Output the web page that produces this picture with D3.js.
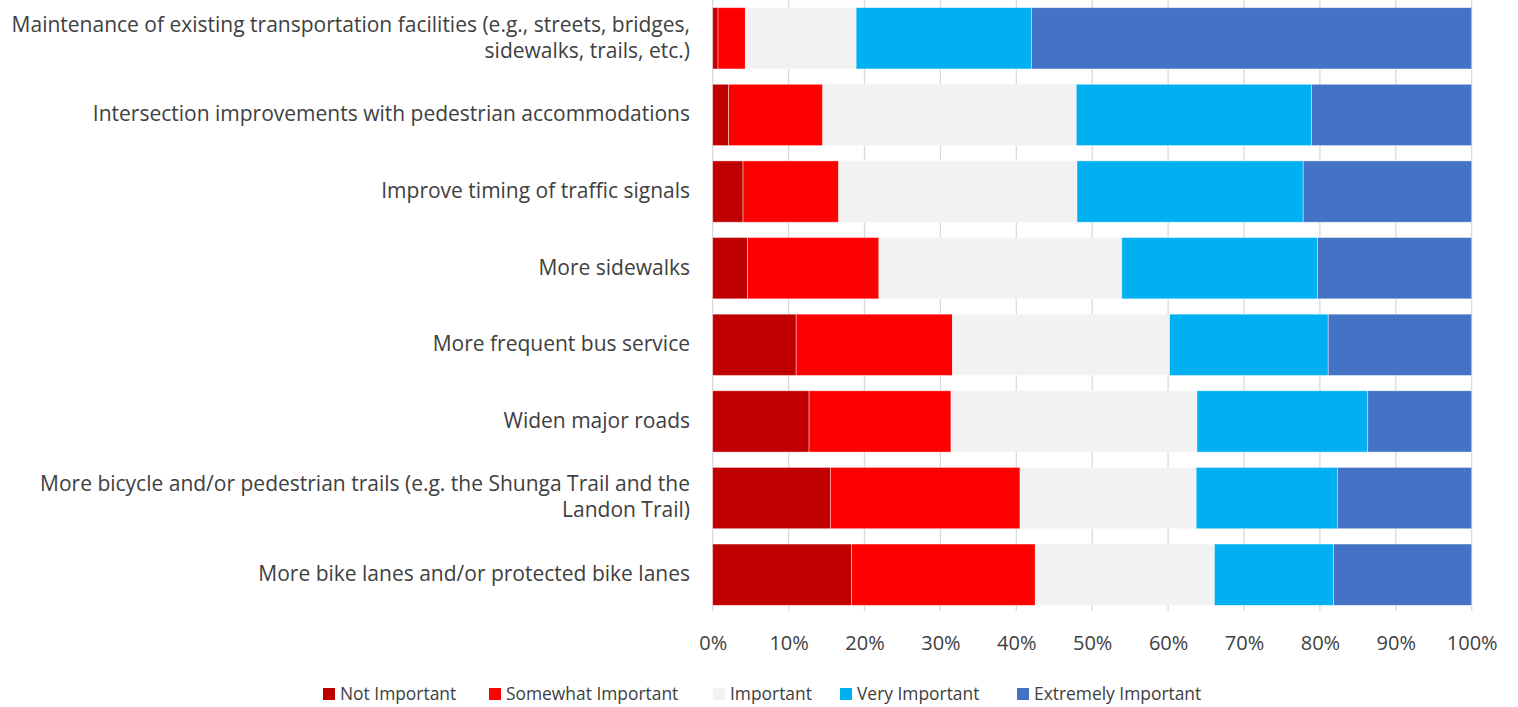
<!DOCTYPE html>
<html><head><meta charset="utf-8">
<script src="https://cdn.jsdelivr.net/npm/d3@7"></script>
<style>body{margin:0;background:#fff;} svg{display:block;}</style>
</head><body>
<svg id="chart" width="1518" height="707"></svg>
<script>
const categories = [
  ["Maintenance of existing transportation facilities (e.g., streets, bridges,", "sidewalks, trails, etc.)"],
  ["Intersection improvements with pedestrian accommodations"],
  ["Improve timing of traffic signals"],
  ["More sidewalks"],
  ["More frequent bus service"],
  ["Widen major roads"],
  ["More bicycle and/or pedestrian trails (e.g. the Shunga Trail and the", "Landon Trail)"],
  ["More bike lanes and/or protected bike lanes"]
];
const seriesNames = ["Not Important","Somewhat Important","Important","Very Important","Extremely Important"];
const notImportant      = [0.7, 2.1, 4.0, 4.6, 11.0, 12.7, 15.5, 18.3];
const somewhatImportant = [3.6, 12.4, 12.6, 17.3, 20.6, 18.7, 25.0, 24.2];
const important         = [14.6, 33.4, 31.4, 32.0, 28.6, 32.4, 23.2, 23.6];
const veryImportant     = [23.1, 31.0, 29.8, 25.8, 20.9, 22.5, 18.6, 15.7];
const extremelyImportant= [58.0, 21.1, 22.2, 20.3, 18.9, 13.7, 17.7, 18.2];
const tickValues = [0,10,20,30,40,50,60,70,80,90,100];
const colors = ["#C00000","#FF0000","#F2F2F2","#00B0F0","#4472C4"];

const seriesVals = [notImportant, somewhatImportant, important, veryImportant, extremelyImportant];
const rows = categories.map((c,i)=>{
  const o = {id:i};
  seriesNames.forEach((s,k)=>o[s]=seriesVals[k][i]);
  const tot = d3.sum(seriesVals, v=>v[i]);
  seriesNames.forEach(s=>o[s]=o[s]/tot*100);
  return o;
});
const stack = d3.stack().keys(seriesNames)(rows);

const svg = d3.select("#chart");
const font = "Open Sans, Liberation Sans, sans-serif";
const x = d3.scaleLinear().domain([0,100]).range([712.7,1471.7]);
const y = d3.scaleBand().domain(d3.range(categories.length)).range([0,613]).paddingInner(0.2).paddingOuter(0.1);

// gridlines
svg.append("g").selectAll("line").data(tickValues).join("line")
  .attr("x1",d=>x(d)).attr("x2",d=>x(d)).attr("y1",0).attr("y2",611)
  .attr("stroke","#D9D9D9").attr("stroke-width",1.3);

// bars
svg.append("g").selectAll("g").data(stack).join("g")
  .attr("fill",(d,i)=>colors[i])
  .selectAll("rect").data(d=>d).join("rect")
  .attr("x",d=>x(d[0])).attr("width",d=>x(d[1])-x(d[0]))
  .attr("y",d=>y(d.data.id)).attr("height",y.bandwidth())
  .attr("stroke","#ffffff").attr("stroke-opacity",0.5).attr("stroke-width",0.8);

// category labels
const lab = svg.append("g").attr("font-family",font).attr("font-size",21).attr("fill","#404040").attr("text-anchor","end");
categories.forEach((lines,i)=>{
  const cy = y(i)+y.bandwidth()/2;
  const lh = 26;
  const t = lab.append("text").attr("x",690);
  lines.forEach((ln,j)=>{
    t.append("tspan").attr("x",690).attr("y",cy + (j-(lines.length-1)/2)*lh - 1).attr("dy","0.35em").text(ln);
  });
});

// x axis labels
const ax = svg.append("g").attr("transform","translate(0,643)");
const axis = d3.axisBottom(x).tickValues(tickValues).tickFormat(d=>d+"%").tickSize(0).tickPadding(0);
ax.call(axis);
ax.select(".domain").remove();
ax.selectAll("text").attr("font-family",font).attr("font-size",20).attr("fill","#404040").attr("dy","0.35em").attr("y",0);

// legend
const legendX = [323,489,713,840,1017];
const lg = svg.append("g");
seriesNames.forEach((s,i)=>{
  lg.append("rect").attr("x",legendX[i]).attr("y",688).attr("width",12).attr("height",12).attr("fill",colors[i]);
  lg.append("text").attr("x",legendX[i]+17).attr("y",694).attr("dy","0.35em")
    .attr("font-family",font).attr("font-size",17.4).attr("fill","#404040").text(s);
});
</script>
</body></html>
